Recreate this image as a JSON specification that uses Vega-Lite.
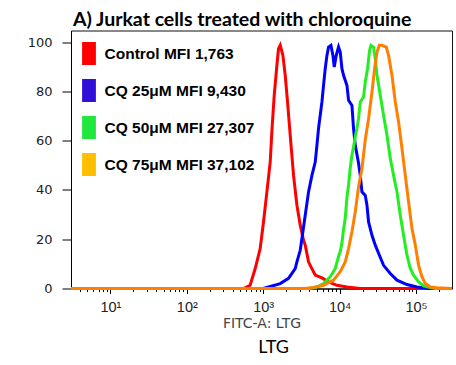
{
  "$schema": "https://vega.github.io/schema/vega-lite/v6.json",
  "background": "white",
  "padding": {"left": 26, "top": 9.5, "right": 2, "bottom": 5},
  "title": {"text": "LTG", "orient": "bottom", "anchor": "middle", "font": "Lato", "fontSize": 18, "fontWeight": "normal", "color": "black", "offset": 8, "dx": 31},
  "config": {"view": {"stroke": "#111", "strokeWidth": 1}},
  "datasets": {
    "hist": [
      {"s": "Control MFI 1,763", "x": 3.05, "y": 0},
      {"s": "Control MFI 1,763", "x": 552, "y": 0},
      {"s": "Control MFI 1,763", "x": 675, "y": 1.3},
      {"s": "Control MFI 1,763", "x": 786, "y": 8.1},
      {"s": "Control MFI 1,763", "x": 913, "y": 16.2},
      {"s": "Control MFI 1,763", "x": 1009, "y": 27.0},
      {"s": "Control MFI 1,763", "x": 1118, "y": 39.2},
      {"s": "Control MFI 1,763", "x": 1235, "y": 51.3},
      {"s": "Control MFI 1,763", "x": 1300, "y": 64.0},
      {"s": "Control MFI 1,763", "x": 1394, "y": 78.4},
      {"s": "Control MFI 1,763", "x": 1511, "y": 90.6},
      {"s": "Control MFI 1,763", "x": 1586, "y": 97.3},
      {"s": "Control MFI 1,763", "x": 1670, "y": 98.7},
      {"s": "Control MFI 1,763", "x": 1811, "y": 94.6},
      {"s": "Control MFI 1,763", "x": 1942, "y": 86.5},
      {"s": "Control MFI 1,763", "x": 2082, "y": 75.7},
      {"s": "Control MFI 1,763", "x": 2257, "y": 62.2},
      {"s": "Control MFI 1,763", "x": 2494, "y": 46.0},
      {"s": "Control MFI 1,763", "x": 2763, "y": 33.8},
      {"s": "Control MFI 1,763", "x": 3053, "y": 25.7},
      {"s": "Control MFI 1,763", "x": 3372, "y": 19.6},
      {"s": "Control MFI 1,763", "x": 3549, "y": 17.6},
      {"s": "Control MFI 1,763", "x": 3921, "y": 10.8},
      {"s": "Control MFI 1,763", "x": 4127, "y": 9.4},
      {"s": "Control MFI 1,763", "x": 4799, "y": 5.4},
      {"s": "Control MFI 1,763", "x": 5871, "y": 4.3},
      {"s": "Control MFI 1,763", "x": 7168, "y": 2.7},
      {"s": "Control MFI 1,763", "x": 9232, "y": 1.3},
      {"s": "Control MFI 1,763", "x": 12487, "y": 0.6},
      {"s": "Control MFI 1,763", "x": 18643, "y": 0},
      {"s": "Control MFI 1,763", "x": 296000, "y": 0},
      {"s": "CQ 25μM MFI 9,430", "x": 3.05, "y": 0},
      {"s": "CQ 25μM MFI 9,430", "x": 1000, "y": 0},
      {"s": "CQ 25μM MFI 9,430", "x": 1173, "y": 0.6},
      {"s": "CQ 25μM MFI 9,430", "x": 1670, "y": 2.0},
      {"s": "CQ 25μM MFI 9,430", "x": 2145, "y": 4.1},
      {"s": "CQ 25μM MFI 9,430", "x": 2624, "y": 8.1},
      {"s": "CQ 25μM MFI 9,430", "x": 2763, "y": 10.8},
      {"s": "CQ 25μM MFI 9,430", "x": 3053, "y": 15.5},
      {"s": "CQ 25μM MFI 9,430", "x": 3213, "y": 20.3},
      {"s": "CQ 25μM MFI 9,430", "x": 3549, "y": 29.7},
      {"s": "CQ 25μM MFI 9,430", "x": 3921, "y": 39.2},
      {"s": "CQ 25μM MFI 9,430", "x": 4344, "y": 45.9},
      {"s": "CQ 25μM MFI 9,430", "x": 4799, "y": 51.3},
      {"s": "CQ 25μM MFI 9,430", "x": 5049, "y": 58.1},
      {"s": "CQ 25μM MFI 9,430", "x": 5298, "y": 64.9},
      {"s": "CQ 25μM MFI 9,430", "x": 5871, "y": 75.7},
      {"s": "CQ 25μM MFI 9,430", "x": 6162, "y": 82.4},
      {"s": "CQ 25μM MFI 9,430", "x": 6486, "y": 89.2},
      {"s": "CQ 25μM MFI 9,430", "x": 6829, "y": 94.6},
      {"s": "CQ 25μM MFI 9,430", "x": 7168, "y": 98.0},
      {"s": "CQ 25μM MFI 9,430", "x": 7702, "y": 98.7},
      {"s": "CQ 25μM MFI 9,430", "x": 8183, "y": 94.6},
      {"s": "CQ 25μM MFI 9,430", "x": 8509, "y": 89.9},
      {"s": "CQ 25μM MFI 9,430", "x": 9038, "y": 94.6},
      {"s": "CQ 25μM MFI 9,430", "x": 9687, "y": 98.0},
      {"s": "CQ 25μM MFI 9,430", "x": 10197, "y": 95.9},
      {"s": "CQ 25μM MFI 9,430", "x": 10735, "y": 89.2},
      {"s": "CQ 25μM MFI 9,430", "x": 11260, "y": 86.5},
      {"s": "CQ 25μM MFI 9,430", "x": 12487, "y": 82.4},
      {"s": "CQ 25μM MFI 9,430", "x": 13097, "y": 76.4},
      {"s": "CQ 25μM MFI 9,430", "x": 14509, "y": 74.3},
      {"s": "CQ 25μM MFI 9,430", "x": 15226, "y": 64.9},
      {"s": "CQ 25μM MFI 9,430", "x": 16032, "y": 58.1},
      {"s": "CQ 25μM MFI 9,430", "x": 17711, "y": 50.8},
      {"s": "CQ 25μM MFI 9,430", "x": 18643, "y": 45.9},
      {"s": "CQ 25μM MFI 9,430", "x": 19620, "y": 39.2},
      {"s": "CQ 25μM MFI 9,430", "x": 21677, "y": 37.8},
      {"s": "CQ 25μM MFI 9,430", "x": 22812, "y": 33.8},
      {"s": "CQ 25μM MFI 9,430", "x": 23946, "y": 27.0},
      {"s": "CQ 25μM MFI 9,430", "x": 26531, "y": 21.6},
      {"s": "CQ 25μM MFI 9,430", "x": 29305, "y": 17.6},
      {"s": "CQ 25μM MFI 9,430", "x": 32367, "y": 14.3},
      {"s": "CQ 25μM MFI 9,430", "x": 37630, "y": 9.4},
      {"s": "CQ 25μM MFI 9,430", "x": 46080, "y": 6.1},
      {"s": "CQ 25μM MFI 9,430", "x": 56370, "y": 3.4},
      {"s": "CQ 25μM MFI 9,430", "x": 76210, "y": 1.6},
      {"s": "CQ 25μM MFI 9,430", "x": 103070, "y": 0.6},
      {"s": "CQ 25μM MFI 9,430", "x": 125800, "y": 0.3},
      {"s": "CQ 25μM MFI 9,430", "x": 150000, "y": 0},
      {"s": "CQ 25μM MFI 9,430", "x": 296000, "y": 0},
      {"s": "CQ 50μM MFI 27,307", "x": 3.05, "y": 0},
      {"s": "CQ 50μM MFI 27,307", "x": 4000, "y": 0},
      {"s": "CQ 50μM MFI 27,307", "x": 5049, "y": 0.6},
      {"s": "CQ 50μM MFI 27,307", "x": 6162, "y": 2.0},
      {"s": "CQ 50μM MFI 27,307", "x": 7540, "y": 4.7},
      {"s": "CQ 50μM MFI 27,307", "x": 8770, "y": 8.1},
      {"s": "CQ 50μM MFI 27,307", "x": 9687, "y": 13.0},
      {"s": "CQ 50μM MFI 27,307", "x": 10197, "y": 15.0},
      {"s": "CQ 50μM MFI 27,307", "x": 10735, "y": 18.5},
      {"s": "CQ 50μM MFI 27,307", "x": 11260, "y": 24.0},
      {"s": "CQ 50μM MFI 27,307", "x": 11860, "y": 28.5},
      {"s": "CQ 50μM MFI 27,307", "x": 12487, "y": 37.0},
      {"s": "CQ 50μM MFI 27,307", "x": 13097, "y": 42.0},
      {"s": "CQ 50μM MFI 27,307", "x": 13790, "y": 49.0},
      {"s": "CQ 50μM MFI 27,307", "x": 14509, "y": 54.1},
      {"s": "CQ 50μM MFI 27,307", "x": 15226, "y": 57.5},
      {"s": "CQ 50μM MFI 27,307", "x": 16032, "y": 61.5},
      {"s": "CQ 50μM MFI 27,307", "x": 16880, "y": 65.0},
      {"s": "CQ 50μM MFI 27,307", "x": 17711, "y": 69.0},
      {"s": "CQ 50μM MFI 27,307", "x": 18643, "y": 75.7},
      {"s": "CQ 50μM MFI 27,307", "x": 20590, "y": 77.7},
      {"s": "CQ 50μM MFI 27,307", "x": 21677, "y": 83.8},
      {"s": "CQ 50μM MFI 27,307", "x": 23230, "y": 89.2},
      {"s": "CQ 50μM MFI 27,307", "x": 24680, "y": 96.6},
      {"s": "CQ 50μM MFI 27,307", "x": 25743, "y": 98.7},
      {"s": "CQ 50μM MFI 27,307", "x": 27846, "y": 97.9},
      {"s": "CQ 50μM MFI 27,307", "x": 29305, "y": 93.3},
      {"s": "CQ 50μM MFI 27,307", "x": 30848, "y": 86.5},
      {"s": "CQ 50μM MFI 27,307", "x": 34070, "y": 78.4},
      {"s": "CQ 50μM MFI 27,307", "x": 37630, "y": 70.3},
      {"s": "CQ 50μM MFI 27,307", "x": 41710, "y": 62.2},
      {"s": "CQ 50μM MFI 27,307", "x": 46080, "y": 52.8},
      {"s": "CQ 50μM MFI 27,307", "x": 50890, "y": 45.9},
      {"s": "CQ 50μM MFI 27,307", "x": 56370, "y": 39.2},
      {"s": "CQ 50μM MFI 27,307", "x": 62280, "y": 29.7},
      {"s": "CQ 50μM MFI 27,307", "x": 68790, "y": 21.6},
      {"s": "CQ 50μM MFI 27,307", "x": 76210, "y": 13.5},
      {"s": "CQ 50μM MFI 27,307", "x": 84200, "y": 8.1},
      {"s": "CQ 50μM MFI 27,307", "x": 93020, "y": 5.4},
      {"s": "CQ 50μM MFI 27,307", "x": 108170, "y": 2.7},
      {"s": "CQ 50μM MFI 27,307", "x": 125800, "y": 1.1},
      {"s": "CQ 50μM MFI 27,307", "x": 153900, "y": 0.4},
      {"s": "CQ 50μM MFI 27,307", "x": 180000, "y": 0},
      {"s": "CQ 50μM MFI 27,307", "x": 296000, "y": 0},
      {"s": "CQ 75μM MFI 37,102", "x": 3.05, "y": 0},
      {"s": "CQ 75μM MFI 37,102", "x": 3500, "y": 0},
      {"s": "CQ 75μM MFI 37,102", "x": 4558, "y": 0.4},
      {"s": "CQ 75μM MFI 37,102", "x": 6162, "y": 1.3},
      {"s": "CQ 75μM MFI 37,102", "x": 8333, "y": 3.4},
      {"s": "CQ 75μM MFI 37,102", "x": 10197, "y": 6.8},
      {"s": "CQ 75μM MFI 37,102", "x": 11860, "y": 10.8},
      {"s": "CQ 75μM MFI 37,102", "x": 13097, "y": 16.2},
      {"s": "CQ 75μM MFI 37,102", "x": 14509, "y": 23.0},
      {"s": "CQ 75μM MFI 37,102", "x": 16032, "y": 31.1},
      {"s": "CQ 75μM MFI 37,102", "x": 17711, "y": 41.3},
      {"s": "CQ 75μM MFI 37,102", "x": 19620, "y": 48.7},
      {"s": "CQ 75μM MFI 37,102", "x": 21677, "y": 60.4},
      {"s": "CQ 75μM MFI 37,102", "x": 23946, "y": 68.9},
      {"s": "CQ 75μM MFI 37,102", "x": 26531, "y": 79.7},
      {"s": "CQ 75μM MFI 37,102", "x": 28690, "y": 89.2},
      {"s": "CQ 75μM MFI 37,102", "x": 30848, "y": 95.9},
      {"s": "CQ 75μM MFI 37,102", "x": 33060, "y": 98.7},
      {"s": "CQ 75μM MFI 37,102", "x": 35860, "y": 98.7},
      {"s": "CQ 75μM MFI 37,102", "x": 40830, "y": 98.0},
      {"s": "CQ 75μM MFI 37,102", "x": 43770, "y": 94.6},
      {"s": "CQ 75μM MFI 37,102", "x": 48500, "y": 86.5},
      {"s": "CQ 75μM MFI 37,102", "x": 53570, "y": 75.7},
      {"s": "CQ 75μM MFI 37,102", "x": 59160, "y": 67.6},
      {"s": "CQ 75μM MFI 37,102", "x": 65550, "y": 56.8},
      {"s": "CQ 75μM MFI 37,102", "x": 72410, "y": 45.9},
      {"s": "CQ 75μM MFI 37,102", "x": 80000, "y": 35.1},
      {"s": "CQ 75μM MFI 37,102", "x": 88620, "y": 24.3},
      {"s": "CQ 75μM MFI 37,102", "x": 97910, "y": 17.6},
      {"s": "CQ 75μM MFI 37,102", "x": 108170, "y": 9.4},
      {"s": "CQ 75μM MFI 37,102", "x": 119860, "y": 4.7},
      {"s": "CQ 75μM MFI 37,102", "x": 132400, "y": 2.0},
      {"s": "CQ 75μM MFI 37,102", "x": 153900, "y": 0.6},
      {"s": "CQ 75μM MFI 37,102", "x": 188400, "y": 0.3},
      {"s": "CQ 75μM MFI 37,102", "x": 296000, "y": 0}
    ]
  },
  "vconcat": [
    {
      "width": 381,
      "height": 258,
      "title": {"text": "A) Jurkat cells treated with chloroquine", "anchor": "start", "frame": "group", "font": "Lato", "fontSize": 19.5, "fontWeight": "bold", "color": "black", "offset": 0, "dx": 2},
      "data": {"name": "hist"},
      "layer": [
        {
          "mark": {"type": "point", "shape": "square", "filled": true, "opacity": 0},
          "encoding": {
            "x": {"field": "x", "type": "quantitative"},
            "y": {"field": "y", "type": "quantitative"},
            "fill": {
              "field": "s", "type": "nominal",
              "scale": {"domain": ["Control MFI 1,763", "CQ 25μM MFI 9,430", "CQ 50μM MFI 27,307", "CQ 75μM MFI 37,102"], "range": ["#ff0000", "#3010d8", "#22e63c", "#ffbe00"]},
              "legend": {
                "title": null, "orient": "none", "legendX": 6.5, "legendY": 11.5, "padding": 0,
                "symbolType": "M-0.6,-1H0.6V1H-0.6Z", "symbolSize": 529, "symbolStrokeWidth": 0, "symbolOpacity": 1,
                "labelFont": "Liberation Sans", "labelFontSize": 15.5, "labelFontWeight": "bold", "labelColor": "black",
                "labelOffset": 4, "rowPadding": 14, "labelLimit": 300
              }
            }
          }
        },
        {
          "mark": {"type": "line", "strokeWidth": 3, "clip": false, "strokeJoin": "miter"},
          "encoding": {
            "x": {
              "field": "x", "type": "quantitative",
              "scale": {"type": "log", "domain": [3.05, 296000], "nice": false},
              "axis": {
                "title": "FITC-A: LTG",
                "titleFont": "DejaVu Sans", "titleFontSize": 14, "titleFontWeight": "normal", "titleColor": "#444", "titlePadding": 2,
                "values": [4,5,6,7,8,9,10,20,30,40,50,60,70,80,90,100,200,300,400,500,600,700,800,900,1000,2000,3000,4000,5000,6000,7000,8000,9000,10000,20000,30000,40000,50000,60000,70000,80000,90000,100000,200000],
                "labelExpr": "datum.value == 10 ? '10¹' : datum.value == 100 ? '10²' : datum.value == 1000 ? '10³' : datum.value == 10000 ? '10⁴' : datum.value == 100000 ? '10⁵' : ''",
                "labelFont": "Liberation Sans", "labelFontSize": 14.5, "labelColor": "#222", "labelPadding": 7,
                "labelOverlap": false, "labelBound": false, "labelFlush": false,
                "tickSize": {"condition": {"test": "indexof([10,100,1000,10000,100000], datum.value) >= 0", "value": 5}, "value": 3},
                "tickColor": "black", "domainColor": "black", "grid": false
              }
            },
            "y": {
              "field": "y", "type": "quantitative",
              "scale": {"domain": [0, 104.7], "nice": false},
              "axis": {
                "title": null,
                "values": [0,5,10,15,20,25,30,35,40,45,50,55,60,65,70,75,80,85,90,95,100],
                "labelExpr": "datum.value % 20 == 0 ? datum.label : ''",
                "labelFont": "DejaVu Sans", "labelFontSize": 13, "labelColor": "#222", "labelPadding": 10,
                "labelOverlap": false, "labelBound": false, "labelFlush": false,
                "tickSize": {"condition": {"test": "datum.value % 20 == 0", "value": 9}, "value": 3},
                "tickColor": "black", "domainColor": "black", "grid": false
              }
            },
            "stroke": {
              "field": "s", "type": "nominal",
              "scale": {"domain": ["Control MFI 1,763", "CQ 25μM MFI 9,430", "CQ 50μM MFI 27,307", "CQ 75μM MFI 37,102"], "range": ["#ff0000", "#0000ff", "#22ee22", "#ff8000"]},
              "legend": null
            }
          }
        }
      ]
    }
  ]
}
